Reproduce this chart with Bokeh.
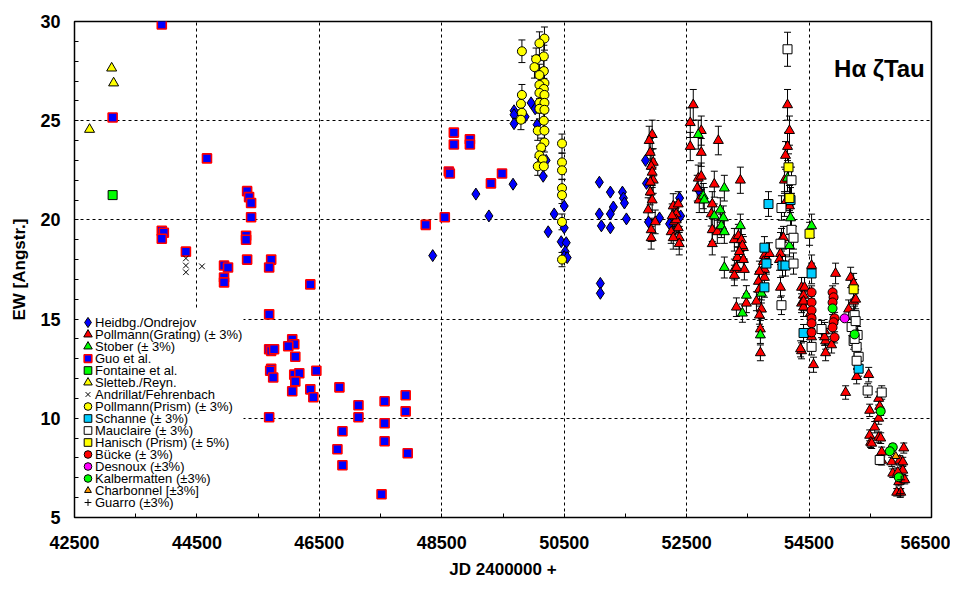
from bokeh.plotting import figure
from bokeh.models import Range1d, FixedTicker, Label
from bokeh.embed import file_html
from bokeh.resources import INLINE
from bokeh.core.properties import value

# ---------------- data (JD 2400000+, EW in Angstrom) ----------------
heid_jd = [48352, 49057, 49270, 49664, 49680, 49680, 49680, 49861, 49959, 50025, 50057, 50156, 50205,
           50336, 50238, 50500, 50500, 50451, 50533, 50516, 50500, 50549, 51074, 51254, 51451, 51467,
           51484, 51303, 51254, 51074, 51107, 51254, 51516, 51090, 51090, 51828, 51844, 51877, 52057,
           52221, 52385, 52402, 52697]
heid_ew = [18.2, 21.3, 20.2, 21.8, 25.5, 25.3, 24.85, 25.2, 25.9, 25.6, 24.8, 22.2, 23.0,
           20.3, 19.4, 20.7, 19.6, 18.9, 18.85, 18.4, 18.15, 18.1, 21.9, 21.4, 21.4, 21.1,
           20.85, 20.65, 20.3, 20.3, 19.7, 19.6, 20.05, 16.8, 16.3, 23.0, 21.84, 19.9, 20.1,
           19.8, 21.1, 20.2, 21.5]

guo_jd = [43926, 43123, 43926, 43959, 43926, 44320, 44664, 45320, 45352, 45385, 45385, 45303, 45303,
          45320, 44943, 45008, 44943, 44943, 45713, 45680, 46352, 45680, 46057, 46090, 45992, 45680,
          45713, 45760, 46107, 45713, 45697, 45746, 46090, 46172, 46107, 46451, 46057, 46352, 46402,
          45680, 46828, 47139, 47139, 47566, 47566, 47910, 47910, 46877, 47566, 46795, 47943, 46877,
          47516, 48238, 48549, 48615, 48631, 48697, 48697, 48959, 48959, 49303, 49484]
guo_ew = [29.85, 25.16, 19.45, 19.35, 19.05, 18.4, 23.1, 21.45, 21.15, 20.85, 20.13, 19.2, 19.0,
          18.0, 17.7, 17.6, 17.1, 16.85, 18.0, 17.6, 16.75, 15.24, 13.98, 13.73, 13.63, 13.48,
          13.4, 13.48, 13.1, 12.5, 12.4, 12.06, 12.2, 12.27, 11.86, 12.4, 11.36, 11.46, 11.06,
          10.05, 11.56, 10.66, 10.05, 10.86, 9.75, 11.16, 10.35, 9.35, 8.84, 8.44, 8.24, 7.63,
          6.17, 19.75, 20.13, 22.44, 22.34, 24.4, 23.8, 24.06, 23.8, 21.84, 22.34]

font_jd = [43123]
font_ew = [21.25]

slet_jd = [42746, 43107, 43139]
slet_ew = [24.56, 27.65, 26.9]

andr_jd = [44320, 44320, 44320, 44582]
andr_ew = [18.06, 17.7, 17.36, 17.66]

pprism_jd = [49809, 49809, 49793, 49809, 49793, 50177, 50095, 50167, 50041, 50014, 50167, 50095, 50177,
             50095, 50167, 50095, 50177, 50095, 50177, 50095, 50177, 50167, 50068, 50177, 50177, 50123,
             50095, 50150, 50068, 50167, 50464, 50464, 50464, 50464, 50464, 50464, 50464]
pprism_ew = [28.5, 26.3, 25.85, 25.4, 25.05, 29.14, 28.9, 28.24, 28.1, 27.7, 27.5, 27.3, 26.9,
             26.8, 26.6, 26.4, 26.3, 25.9, 25.9, 25.6, 25.55, 25.0, 24.5, 24.5, 23.9, 23.65,
             23.25, 23.05, 22.7, 22.7, 23.85, 22.9, 22.5, 21.6, 21.25, 19.9, 18.0]

pgrat_jd = [51937, 51888, 51954, 51921, 51954, 51905, 51905, 51937, 51872, 51986, 51921, 51921, 51905, 51937,
            52281, 52363, 52330, 52297, 52363, 52248, 52379, 52281, 52379, 52330, 52264,
            52608, 52559, 52739, 52559, 52739, 53018, 52690, 52739, 52673, 52706, 52952, 52919, 52903,
            52919, 52919, 53001, 53378,
            53280, 53345, 53394, 53427, 53329, 53427, 53280, 53443, 53280, 53313, 53476, 53411, 53313, 53362,
            53771, 53853, 53754, 53771, 53771, 53673, 53689, 53640, 53722, 53689, 53705, 53705, 53689,
            54148, 54180, 54148, 54115, 54098, 54098, 54180, 54049, 54033, 54017, 54033, 54082,
            54377, 54410, 54377, 54377, 54541, 54573, 54426, 54410, 54361, 54410, 54524, 54541,
            54753, 54770, 54770, 54753, 54868, 54933,
            55179, 55228, 55228, 55146, 55097, 55277, 55261,
            55474, 55490, 55637, 55637, 55572, 55637, 55490, 55506, 55670, 55523, 55687, 55687, 55654,
            55851, 55981, 56047, 56031, 55867, 55932, 55998, 55949, 55965, 56063, 56031]
pgrat_ew = [24.3, 24.0, 22.9, 22.7, 22.0, 21.9, 21.4, 21.0, 20.5, 19.9, 19.5, 19.1, 23.4, 22.4,
            20.7, 20.8, 20.3, 19.9, 19.6, 19.4, 19.1, 19.1, 18.8, 20.0, 20.2,
            25.8, 24.9, 24.5, 23.7, 23.4, 24.0, 22.1, 22.2, 21.6, 21.0, 21.8, 20.8, 20.3,
            19.5, 18.8, 19.4, 22.0,
            19.0, 19.2, 19.0, 18.6, 18.1, 18.0, 17.5, 17.5, 17.2, 15.6, 15.8, 18.7, 17.6, 18.4,
            18.2, 18.3, 17.9, 17.5, 17.1, 16.9, 16.5, 15.9, 15.5, 15.2, 13.3, 14.5, 17.4,
            25.8, 24.5, 23.7, 23.25, 22.0, 20.8, 20.7, 19.0, 18.3, 18.0, 16.6, 19.1,
            16.6, 16.2, 15.8, 13.4, 17.7, 12.7, 16.6, 15.6, 13.5, 15.9, 15.3, 14.1,
            14.4, 13.9, 13.3, 14.1, 13.7, 17.3,
            17.1, 16.8, 15.9, 15.5, 11.3, 12.1, 16.0,
            12.2, 10.4, 11.0, 10.0, 9.55, 9.04, 9.14, 8.79, 9.0, 8.74, 8.3, 7.88, 10.6,
            7.8, 7.88, 8.5, 7.38, 7.23, 6.27, 6.27, 7.28, 6.8, 6.9, 7.8]

stob_jd = [52690, 53116, 52772, 52788, 52952, 53050, 53100, 53067, 53116, 53378, 53116, 53476, 53411,
           53705, 53722, 54197, 54180, 54541, 54148]
stob_ew = [24.3, 21.6, 21.2, 21.0, 20.2, 20.5, 20.1, 19.7, 19.4, 19.7, 17.6, 16.2, 15.3,
           14.2, 16.3, 20.1, 18.7, 19.7, 22.1]

schan_jd = [53837, 54197, 53771, 53804, 54066, 54115, 53771, 54541, 54410, 55310]
schan_ew = [20.8, 21.0, 18.6, 17.8, 17.7, 17.7, 16.6, 17.3, 14.3, 12.5]

mauc_jd = [54148, 54213, 54049, 54213, 54246, 54033, 54246, 54049, 54541, 54704, 55457, 55687, 55244,
           55228, 55277, 55310, 55654, 55195, 55261, 55293, 55277, 55244]
mauc_ew = [28.6, 22.0, 20.6, 19.5, 19.1, 18.8, 17.8, 15.7, 13.6, 14.5, 11.4, 11.3, 15.2,
           13.9, 13.6, 13.1, 7.9, 14.6, 14.9, 14.2, 12.9, 14.0]

hani_jd = [54164, 54180, 54508, 55228]
hani_ew = [22.65, 21.1, 19.3, 16.5]

buck_jd = [54541, 54541, 54541, 54541, 54541, 54541, 54884, 54900, 54884, 54917, 54900, 54884, 54917]
buck_ew = [16.35, 15.84, 15.44, 15.04, 14.79, 14.33, 16.35, 16.1, 15.84, 15.04, 14.84, 14.58, 14.08]

desn_jd = [55081]
desn_ew = [15.04]

kalb_jd = [54884, 55244, 55670, 55867, 55818, 55965]
kalb_ew = [15.54, 14.23, 10.35, 8.54, 8.34, 7.03]

charb_jd = [55916]
charb_ew = [8.09]

guar_jd = [55990, 56005]
guar_ew = [6.2, 6.9]

x_ticks = [42500, 44500, 46500, 48500, 50500, 52500, 54500, 56500]
x_minor = [43500, 45500, 47500, 49500, 51500, 53500, 55500]
y_ticks = [5, 10, 15, 20, 25, 30]
y_minor = [v for v in range(5, 31) if v % 5 != 0]

FONT = "Liberation Sans"

# series: (label, jd, ew, marker, size, fill, line, line_width, error fraction)
series = [
    ("Heidbg./Ondrejov", heid_jd, heid_ew, "diamond", 12, "#0000ff", "black", 1, None),
    ("Pollmann(Grating) (\u00b1 3%)", pgrat_jd, pgrat_ew, "triangle", 10, "#ff0000", "black", 1, 0.03),
    ("Stober (\u00b1 3%)", stob_jd, stob_ew, "triangle", 10, "#00ff00", "black", 1, 0.03),
    ("Guo et al.", guo_jd, guo_ew, "square", 9, "#0000ff", "#ff0000", 1.6, None),
    ("Fontaine et al.", font_jd, font_ew, "square", 9, "#00ff00", "black", 1, None),
    ("Sletteb./Reyn.", slet_jd, slet_ew, "triangle", 10, "#ffff00", "black", 1, None),
    ("Andrillat/Fehrenbach", andr_jd, andr_ew, "x", 8, None, "black", 1, None),
    ("Pollmann(Prism) (\u00b1 3%)", pprism_jd, pprism_ew, "circle", 9, "#ffff00", "black", 1, 0.02),
    ("Schanne (\u00b1 3%)", schan_jd, schan_ew, "square", 9, "#00ccff", "black", 1, 0.03),
    ("Mauclaire (\u00b1 3%)", mauc_jd, mauc_ew, "square", 9, "white", "black", 1, 0.03),
    ("Hanisch (Prism) (\u00b1 5%)", hani_jd, hani_ew, "square", 9, "#ffff00", "black", 1, 0.03),
    ("B\u00fccke (\u00b1 3%)", buck_jd, buck_ew, "circle", 9, "#ff0000", "black", 1, 0.02),
    ("Desnoux (\u00b13%)", desn_jd, desn_ew, "circle", 9, "#ff00ff", "black", 1, None),
    ("Kalbermatten (\u00b13%)", kalb_jd, kalb_ew, "circle", 9, "#00ff00", "black", 1, 0.02),
    ("Charbonnel [\u00b13%]", charb_jd, charb_ew, "triangle", 8, "#ff9900", "black", 1, None),
    ("Guarro (\u00b13%)", guar_jd, guar_ew, "cross", 8, None, "black", 1, 0.03),
]
draw_order = [3, 0, 4, 5, 6, 7, 1, 2, 8, 9, 10, 11, 12, 13, 14, 15]

FRAME_W, FRAME_H = 857, 496
p = figure(width=950, height=585, x_range=Range1d(42500, 56500), y_range=Range1d(5, 30),
           output_backend="svg", toolbar_location=None,
           min_border_left=74, min_border_right=19, min_border_top=21, min_border_bottom=68)
p.extra_x_ranges = {"lx": Range1d(0, FRAME_W)}
p.extra_y_ranges = {"ly": Range1d(0, FRAME_H)}
p.background_fill_color = "white"
p.outline_line_color = "black"
p.outline_line_width = 1.5

for ax, tk, mn in ((p.xaxis[0], x_ticks, x_minor), (p.yaxis[0], y_ticks, y_minor)):
    ax.ticker = FixedTicker(ticks=tk, minor_ticks=mn)
    ax.major_tick_in = 4
    ax.major_tick_out = 0
    ax.minor_tick_in = 4
    ax.minor_tick_out = 0
    ax.axis_line_color = "black"
    ax.major_tick_line_color = "black"
    ax.minor_tick_line_color = "black"
    ax.major_label_text_font = FONT
    ax.major_label_text_font_style = "bold"
    ax.major_label_text_font_size = "18px"
    ax.major_label_text_color = "black"
    ax.axis_label_text_font = FONT
    ax.axis_label_text_font_style = "bold"
    ax.axis_label_text_font_size = "17px"
    ax.axis_label_text_color = "black"

p.xaxis.axis_label = "JD 2400000 +"
p.yaxis.axis_label = "EW [Angstr.]"
p.xaxis.major_label_standoff = 18
p.yaxis.major_label_standoff = 14
p.xaxis.axis_label_standoff = 8
p.yaxis.axis_label_standoff = 8

p.xgrid.ticker = FixedTicker(ticks=x_ticks[1:-1])
p.ygrid.ticker = FixedTicker(ticks=y_ticks[1:-1])
for g in (p.xgrid[0], p.ygrid[0]):
    g.grid_line_color = "black"
    g.grid_line_dash = "3 3"
    g.grid_line_width = 1

# ---------------- error bars ----------------
for (lab, jd, ew, mk, sz, fc, lc, lw, frac) in series:
    if frac is None:
        continue
    lo = [v * (1 - frac) for v in ew]
    hi = [v * (1 + frac) for v in ew]
    p.segment(x0=jd, y0=lo, x1=jd, y1=hi, line_color="black", line_width=1)
    p.scatter(jd, lo, marker="dash", size=7, line_color="black", line_width=1)
    p.scatter(jd, hi, marker="dash", size=7, line_color="black", line_width=1)

# ---------------- markers ----------------
for i in draw_order:
    lab, jd, ew, mk, sz, fc, lc, lw, frac = series[i]
    p.scatter(jd, ew, marker=mk, size=sz, fill_color=fc, line_color=lc, line_width=lw)

# ---------------- legend (frame pixel space) ----------------
LEG_LEFT, LEG_RIGHT, LEG_BOTTOM, LEG_TOP = 5, 169, 5, 208
ROW0, ROW_STEP, KEY_X, TEXT_X = 195, 12, 13.5, 20.5
p.quad(left=[LEG_LEFT], right=[LEG_RIGHT], bottom=[LEG_BOTTOM], top=[LEG_TOP],
       fill_color="white", line_color=None, x_range_name="lx", y_range_name="ly")
for k, (lab, jd, ew, mk, sz, fc, lc, lw, frac) in enumerate(series):
    yy = ROW0 - k * ROW_STEP
    p.scatter([KEY_X], [yy], marker=mk, size=sz * 0.85, fill_color=fc, line_color=lc,
              line_width=lw, x_range_name="lx", y_range_name="ly")
    p.text([TEXT_X], [yy], text=[lab], text_font=value(FONT), text_font_size="13px",
           text_baseline="middle", text_align="left", text_color="black",
           x_range_name="lx", y_range_name="ly")

p.add_layout(Label(x=56390, y=27.63, text="H\u03b1 \u03b6Tau", text_align="right",
                   text_baseline="alphabetic", text_font=FONT, text_font_style="bold",
                   text_font_size="24px", text_color="black"))

open("out.html", "w").write(file_html(p, INLINE))
